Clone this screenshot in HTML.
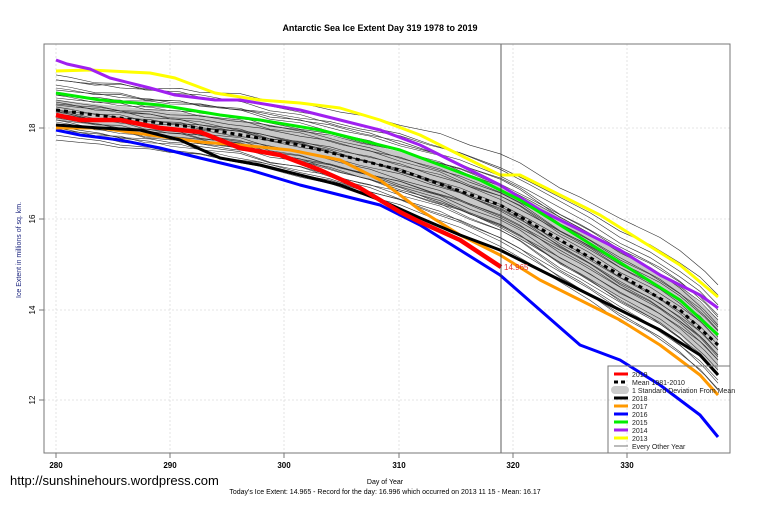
<!DOCTYPE html>
<html><head><style>body{margin:0;background:#fff}svg{display:block;font-family:"Liberation Sans",Arial,sans-serif}</style></head>
<body>
<svg width="759" height="506" viewBox="0 0 759 506">
<defs>
<polyline id="m1" points="56,110 80,113 100,115 120,119 150,121 170,125 200,127 230,133 260,137 300,146 330,151 360,160 400,169 430,180 460,189 500,206 530,222 560,239 590,256 620,276 650,291 680,311 700,326 718,345"/>
<polyline id="m2" points="56,110 70,112 95,117 120,117 145,123 180,124 200,129 240,132 270,141 300,144 340,155 370,161 400,171 440,181 470,194 500,204 520,214 560,241 580,251 620,274 660,295 680,309 705,331 718,345"/>
</defs>
<rect width="759" height="506" fill="#fff"/>
<text x="380" y="31" font-size="9" font-weight="bold" text-anchor="middle">Antarctic Sea Ice Extent Day 319 1978 to 2019</text>
<g stroke="#ddd" stroke-dasharray="2,2" stroke-width="0.8">
<line x1="56" y1="44" x2="56" y2="453"/><line x1="170" y1="44" x2="170" y2="453"/><line x1="284" y1="44" x2="284" y2="453"/><line x1="399" y1="44" x2="399" y2="453"/><line x1="513" y1="44" x2="513" y2="453"/><line x1="627" y1="44" x2="627" y2="453"/>
<line x1="44" y1="128" x2="730" y2="128"/><line x1="44" y1="219" x2="730" y2="219"/><line x1="44" y1="310" x2="730" y2="310"/><line x1="44" y1="400" x2="730" y2="400"/>
</g>
<polygon fill="#c8c8c8" points="56,100 120,106.4 200,114.5 300,129.1 400,151.7 500,184.3 560,217.8 620,251.4 680,284.9 718,319 718,371 680,335.1 620,298.6 560,262.2 500,225.7 400,188.3 300,160.9 200,141.5 120,129.6 56,120"/>
<g fill="none" stroke="#333" stroke-width="0.6">
<use href="#m1" transform="translate(0,-29.2) skewY(-0.87)"/>
<use href="#m2" transform="translate(0,-25.8) skewY(0.87)"/>
<use href="#m1" transform="translate(0,-18.7) skewY(-1.30)"/>
<use href="#m2" transform="translate(0,-15.8) skewY(0.87)"/>
<use href="#m1" transform="translate(0,-10.9) skewY(-1.13)"/>
<use href="#m2" transform="translate(0,-9.5) skewY(1.56)"/>
<use href="#m1" transform="translate(0,-3.9) skewY(-1.13)"/>
<use href="#m2" transform="translate(0,-3.7) skewY(0.69)"/>
<use href="#m1" transform="translate(0,0.85) skewY(-0.87)"/>
<use href="#m2" transform="translate(0,0.9) skewY(1.13)"/>
<use href="#m1" transform="translate(0,5.85) skewY(-0.87)"/>
<use href="#m2" transform="translate(0,5.9) skewY(1.13)"/>
<use href="#m1" transform="translate(0,10.85) skewY(-0.87)"/>
<use href="#m2" transform="translate(0,10.9) skewY(1.13)"/>
<use href="#m1" transform="translate(0,15.4) skewY(-0.43)"/>
<use href="#m2" transform="translate(0,17) skewY(1.04)"/>
<use href="#m1" transform="translate(0,21.3) skewY(-1.3)"/>
<use href="#m2" transform="translate(0,-21.5) skewY(-0.52)"/>
<use href="#m1" transform="translate(0,-11.9) skewY(1.9)"/>
<use href="#m2" transform="translate(0,5.5) skewY(-1.56)"/>
<use href="#m1" transform="translate(0,6.3) skewY(1.73)"/>
<use href="#m2" transform="translate(0,-18.8) skewY(0.87)"/>
<use href="#m1" transform="translate(0,24.2) skewY(0.87)"/>
<use href="#m2" transform="translate(0,-36.3) skewY(1.3)"/>
<use href="#m1" transform="translate(0,31.3) skewY(-1.3)"/>
<use href="#m2" transform="translate(0,-2.5) skewY(2.6)"/>
<use href="#m1" transform="translate(0,-4) skewY(-2.08)"/>
<use href="#m2" transform="translate(0,-2) skewY(3.2)"/>
<use href="#m1" transform="translate(0,14) skewY(2.4)"/>
<use href="#m2" transform="translate(0,-27.5) skewY(-2.6)"/>
<use href="#m1" transform="translate(0,17.5) skewY(2.6)"/>
<use href="#m2" transform="translate(0,7) skewY(3.03)"/>
<use href="#m1" transform="translate(0,-12) skewY(-3.03)"/>
</g>
<polyline fill="none" stroke="#000" stroke-width="3" stroke-dasharray="4,4" points="56,110 120,118 200,128 300,145 400,170 500,205 560,240 620,275 680,310 718,345"/>
<g fill="none" stroke-width="3" stroke-linejoin="round">
<polyline stroke="#ffff00" points="56,71 90,70 150,73 175,78 215,93 260,100 300,103 340,108 380,120 420,135 460,155 500,175 520,175 560,195 600,215 640,240 680,265 718,297"/>
<polyline stroke="#a020f0" points="56,60 67,64 90,69 110,78 150,88 175,95 215,100 240,100 270,105 300,110 340,120 380,130 420,145 460,165 500,185 540,210 580,230 620,250 660,275 700,295 718,308"/>
<polyline stroke="#00ee00" points="56,93 100,100 160,105 220,115 260,120 320,130 360,140 400,150 440,165 480,180 520,200 560,225 600,250 640,275 680,300 718,335"/>
<polyline stroke="#0000ff" points="56,130 80,135 120,140 160,148 200,158 250,170 300,185 340,195 380,205 420,225 460,250 500,275 540,310 580,345 620,360 660,385 700,415 718,437"/>
<polyline stroke="#ff9900" points="56,128 100,128 150,135 200,142 240,145 290,150 340,160 380,180 420,210 460,235 500,255 540,280 580,300 620,320 660,345 700,375 718,395"/>
<polyline stroke="#000" points="56,125 100,128 140,130 180,140 220,158 260,165 300,175 340,185 380,200 420,218 460,235 500,250 540,270 580,290 620,310 660,330 700,355 718,375"/>
<polyline stroke="#ff0000" stroke-width="4.5" points="56,115 80,120 120,120 160,128 200,132 240,148 280,155 320,170 360,188 400,212 420,222 460,240 501,267"/>
</g>
<text x="504" y="270" font-size="8" fill="#e03030">14.965</text>
<line x1="501" y1="44" x2="501" y2="453" stroke="#333" stroke-width="0.8"/>
<rect x="44" y="44" width="686" height="409" fill="none" stroke="#777" stroke-width="1"/>
<g font-size="8" text-anchor="middle" font-weight="bold">
<text x="56" y="468">280</text><text x="170" y="468">290</text><text x="284" y="468">300</text><text x="399" y="468">310</text><text x="513" y="468">320</text><text x="627" y="468">330</text>
</g>
<g stroke="#777"><line x1="56" y1="453" x2="56" y2="458"/><line x1="170" y1="453" x2="170" y2="458"/><line x1="284" y1="453" x2="284" y2="458"/><line x1="399" y1="453" x2="399" y2="458"/><line x1="513" y1="453" x2="513" y2="458"/><line x1="627" y1="453" x2="627" y2="458"/>
<line x1="39" y1="128" x2="44" y2="128"/><line x1="39" y1="219" x2="44" y2="219"/><line x1="39" y1="310" x2="44" y2="310"/><line x1="39" y1="400" x2="44" y2="400"/></g>
<g font-size="8">
<text transform="translate(35,128) rotate(-90)" text-anchor="middle">18</text>
<text transform="translate(35,219) rotate(-90)" text-anchor="middle">16</text>
<text transform="translate(35,310) rotate(-90)" text-anchor="middle">14</text>
<text transform="translate(35,400) rotate(-90)" text-anchor="middle">12</text>
<text transform="translate(21,250) rotate(-90)" text-anchor="middle" fill="#1a237e" font-size="7">Ice Extent in millions of sq. km.</text>
</g>
<text x="385" y="484" font-size="7" text-anchor="middle">Day of Year</text>
<text x="385" y="494" font-size="7" text-anchor="middle">Today's Ice Extent: 14.965  - Record for the day: 16.996 which occurred on 2013 11 15  - Mean: 16.17</text>
<text x="10" y="485" font-size="13">http://sunshinehours.wordpress.com</text>
<rect x="608" y="366" width="122" height="87" fill="none" stroke="#777"/>
<g stroke-width="3">
<line x1="614" y1="374" x2="628" y2="374" stroke="#f00"/>
<line x1="614" y1="382" x2="628" y2="382" stroke="#000" stroke-dasharray="4,3"/>
<rect x="611" y="386" width="18" height="8" rx="4" fill="#ccc" stroke="none"/>
<line x1="614" y1="398" x2="628" y2="398" stroke="#000"/>
<line x1="614" y1="406" x2="628" y2="406" stroke="#f90"/>
<line x1="614" y1="414" x2="628" y2="414" stroke="#00f"/>
<line x1="614" y1="422" x2="628" y2="422" stroke="#0e0"/>
<line x1="614" y1="430" x2="628" y2="430" stroke="#a020f0"/>
<line x1="614" y1="438" x2="628" y2="438" stroke="#ff0"/>
<line x1="614" y1="446" x2="628" y2="446" stroke="#555" stroke-width="0.8"/>
</g>
<g font-size="7" fill="#222">
<text x="632" y="377">2019</text><text x="632" y="385">Mean 1981-2010</text><text x="632" y="393">1 Standard Deviation From Mean</text>
<text x="632" y="401">2018</text><text x="632" y="409">2017</text><text x="632" y="417">2016</text><text x="632" y="425">2015</text><text x="632" y="433">2014</text><text x="632" y="441">2013</text><text x="632" y="449">Every Other Year</text>
</g>
</svg>
</body></html>
